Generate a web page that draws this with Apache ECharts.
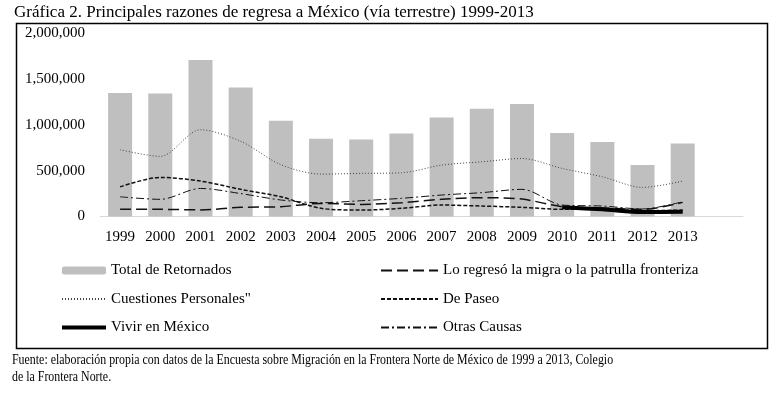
<!DOCTYPE html>
<html>
<head>
<meta charset="utf-8">
<script src="https://cdn.jsdelivr.net/npm/echarts@6/dist/echarts.min.js"></script>
<style>
  html, body { margin: 0; padding: 0; background: #fff; }
  #chart { width: 778px; height: 394px; }
</style>
</head>
<body>
<div id="chart"></div>
<script>
// años (la última categoría va vacía, como en el original)
const years = ['1999', '2000', '2001', '2002', '2003', '2004', '2005', '2006',
  '2007', '2008', '2009', '2010', '2011', '2012', '2013', ''];

const totalRetornados = [1345000, 1340000, 1707000, 1405000, 1043000, 848000, 840000, 905000,
  1080000, 1174000, 1225000, 910000, 812000, 562000, 797000];
const migra = [78000, 78000, 72000, 100000, 107000, 143000, 132000, 150000,
  187000, 205000, 190000, 107000, 92000, 78000, 154000];
const cuestionesPersonales = [728000, 655000, 946000, 820000, 565000, 462000, 470000, 476000,
  560000, 596000, 632000, 524000, 433000, 317000, 386000];
const dePaseo = [324000, 426000, 386000, 296000, 215000, 89000, 70000, 89000,
  125000, 114000, 100000, 78000, 80000, 62000, 70000];
const vivirEnMexico = [null, null, null, null, null, null, null, null,
  null, null, null, 100000, 78000, 49000, 52000];
const otrasCausas = [215000, 187000, 306000, 250000, 180000, 150000, 172000, 198000,
  234000, 260000, 296000, 125000, 114000, 82000, 161000];

const serif = '"Liberation Serif", "DejaVu Serif", serif';

const chart = echarts.init(document.getElementById('chart'));

const lineSeries = (name, data, style) => ({
  name: name,
  type: 'line',
  data: data,
  symbol: 'none',
  smooth: 0.3,
  itemStyle: { color: style.color },
  lineStyle: style,
  z: 3
});

// sin el puntito en los iconos de línea
const noDot = name => ({ name: name, itemStyle: { opacity: 0 } });

const legendText = { color: '#000', fontSize: 15, fontFamily: serif };

const option = {
  animation: false,
  textStyle: { fontFamily: serif },
  grid: { left: 100, right: 35, top: 33, bottom: 177.5, containLabel: false },
  xAxis: {
    type: 'category',
    data: years,
    axisLine: { lineStyle: { color: '#d9d9d9', width: 1 } },
    axisTick: { show: false },
    axisLabel: { color: '#000', fontSize: 15, fontFamily: serif, margin: 13, interval: 0 }
  },
  yAxis: {
    type: 'value',
    min: 0,
    max: 2000000,
    interval: 500000,
    axisLine: { show: false },
    axisTick: { show: false },
    splitLine: { show: false },
    axisLabel: {
      color: '#000', fontSize: 15, fontFamily: serif, margin: 15,
      formatter: v => v.toLocaleString('en-US')
    }
  },
  legend: [
    {
      orient: 'vertical', left: 55, top: 258, itemGap: 13.5,
      itemWidth: 44, itemHeight: 8,
      textStyle: legendText,
      data: [
        { name: 'Total de Retornados', itemStyle: { opacity: 1 } },
        noDot('Cuestiones Personales"'),
        { name: 'Vivir en México', itemStyle: { opacity: 0 }, lineStyle: { width: 4 } }
      ]
    },
    {
      orient: 'vertical', left: 375, top: 258, itemGap: 13.5,
      itemWidth: 57, itemHeight: 6,
      textStyle: legendText,
      data: [noDot('Lo regresó la migra o la patrulla fronteriza'), noDot('De Paseo'), noDot('Otras Causas')]
    }
  ],
  series: [
    {
      name: 'Total de Retornados',
      type: 'bar',
      data: totalRetornados,
      barWidth: 24,
      itemStyle: { color: '#bfbfbf' },
      z: 2
    },
    lineSeries('Lo regresó la migra o la patrulla fronteriza', migra,
      { color: '#111', width: 1.5, type: [11, 5] }),
    lineSeries('Cuestiones Personales"', cuestionesPersonales,
      { color: '#444', width: 1, type: [1, 2] }),
    lineSeries('De Paseo', dePaseo,
      { color: '#111', width: 1.5, type: [4, 2] }),
    lineSeries('Vivir en México', vivirEnMexico,
      { color: '#000', width: 4, type: 'solid' }),
    lineSeries('Otras Causas', otrasCausas,
      { color: '#111', width: 1, type: [8, 3, 2, 3] })
  ],
  graphic: [
    {
      type: 'text', left: 14, top: 4,
      style: {
        text: 'Gráfica 2. Principales razones de regresa a México (vía terrestre) 1999-2013',
        font: '17px ' + serif, fill: '#000'
      }
    },
    {
      type: 'rect', left: 14, top: 21, z: -1,
      shape: { width: 751, height: 325 },
      style: { fill: 'none', stroke: '#000', lineWidth: 1.5 }
    },
    {
      type: 'text', x: 12, y: 352, scaleX: 0.85,
      style: {
        text: 'Fuente: elaboración propia con datos de la Encuesta sobre Migración en la Frontera Norte de México de 1999 a 2013, Colegio\nde la Frontera Norte.',
        font: '14px ' + serif, fill: '#000', lineHeight: 17
      }
    }
  ]
};

chart.setOption(option);
</script>
</body>
</html>
